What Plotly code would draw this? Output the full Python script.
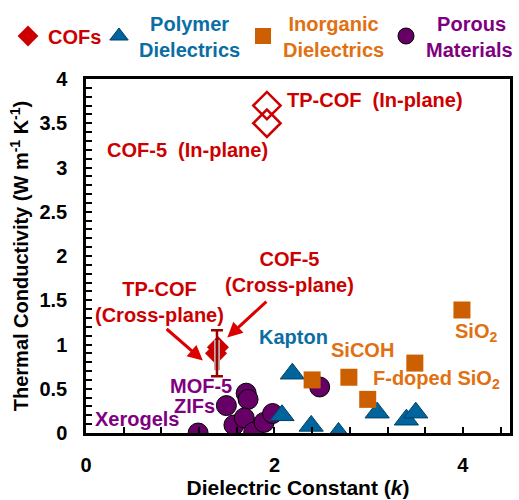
import plotly.graph_objects as go

# ---------------- data ----------------
# COFs (in-plane, open diamonds)
cof_in_x = [1.92, 1.92]
cof_in_y = [3.70, 3.50]
# COFs (cross-plane, filled diamonds)
cof_cross_x = [1.38, 1.40]
cof_cross_y = [0.90, 0.97]
# error bars on cross-plane values
errbar_x = [1.39]
errbar_dark_y = [0.90]
errbar_dark = [0.26]
errbar_light_y = [0.88]
errbar_light = [0.17]

# Polymer dielectrics (triangles)
poly_x = [2.19, 2.08, 2.39, 2.68, 3.09, 3.40, 3.50]
poly_y = [0.67, 0.20, 0.08, 0.00, 0.23, 0.15, 0.23]

# Inorganic dielectrics (squares)
ino_x = [2.40, 2.79, 2.99, 3.49, 3.99]
ino_y = [0.60, 0.63, 0.38, 0.79, 1.39]

# Porous materials (circles)
por_x = [1.19, 1.49, 1.70, 1.72, 1.57, 1.68, 1.78, 1.89, 1.98, 2.48]
por_y = [0.00, 0.31, 0.45, 0.38, 0.09, 0.17, 0.01, 0.12, 0.22, 0.52]

x_ticks = [0, 2, 4]
y_ticks = [0, 0.5, 1, 1.5, 2, 2.5, 3, 3.5, 4]

RED = "#CC0000"
DARKRED = "#990000"
BLUE_M = "#00659C"
BLUE_T = "#0A6EA4"
ORANGE_M = "#CC6000"
ORANGE_T = "#E07010"
PURPLE_M = "#660066"
PURPLE_T = "#7F007F"
NB = "&nbsp;"

fig = go.Figure()

fig.add_trace(go.Scatter(
    x=por_x, y=por_y, mode="markers", legend="legend4",
    name=f"<span style='color:{PURPLE_T}'>{NB}{NB}Porous</span><br><span style='color:{PURPLE_T}'>Materials</span>",
    marker=dict(symbol="circle", size=20, color=PURPLE_M, line=dict(color="black", width=1)),
))
fig.add_trace(go.Scatter(
    x=poly_x, y=poly_y, mode="markers", legend="legend2",
    name=f"<span style='color:{BLUE_T}'>{NB}{NB}Polymer</span><br><span style='color:{BLUE_T}'>Dielectrics</span>",
    marker=dict(symbol="triangle-up", size=21, color=BLUE_M, line=dict(color="#003F66", width=1)),
))
fig.add_trace(go.Scatter(
    x=ino_x, y=ino_y, mode="markers", legend="legend3",
    name=f"<span style='color:{ORANGE_T}'>{NB}Inorganic</span><br><span style='color:{ORANGE_T}'>Dielectrics</span>",
    marker=dict(symbol="square", size=17, color=ORANGE_M, line=dict(width=0)),
))
fig.add_trace(go.Scatter(
    x=cof_in_x, y=cof_in_y, mode="markers", showlegend=False,
    marker=dict(symbol="diamond-open", size=21, color=RED, line=dict(color=RED, width=2.5)),
))
fig.add_trace(go.Scatter(
    x=cof_cross_x, y=cof_cross_y, mode="markers", legend="legend",
    name=f"<span style='color:{RED}'>COFs</span>",
    marker=dict(symbol="diamond", size=17, color=RED, line=dict(width=0)),
))
fig.add_trace(go.Scatter(
    x=errbar_x, y=errbar_light_y, mode="markers", showlegend=False,
    marker=dict(size=1, opacity=0),
    error_y=dict(type="data", array=errbar_light, color="#C8A8A8", thickness=6, width=0),
))
fig.add_trace(go.Scatter(
    x=errbar_x, y=errbar_dark_y, mode="markers", showlegend=False,
    marker=dict(size=1, opacity=0),
    error_y=dict(type="data", array=errbar_dark, color=DARKRED, thickness=2.5, width=6),
))

def txt(x, y, s, color, xanchor="left", align="left"):
    fig.add_annotation(x=x, y=y, xref="x", yref="y", text=s, showarrow=False,
                       xanchor=xanchor, yanchor="middle", align=align,
                       font=dict(color=color, size=20))

txt(2.11, 3.76, f"TP-COF{NB}{NB}(In-plane)", RED)
txt(0.20, 3.20, f"COF-5{NB}{NB}(In-plane)", RED)
txt(2.16, 1.82, "COF-5<br>(Cross-plane)", RED, xanchor="center", align="center")
txt(0.78, 1.48, "TP-COF<br>(Cross-plane)", RED, xanchor="center", align="center")
txt(1.81, 1.08, "Kapton", BLUE_T)
txt(2.58, 0.94, "SiCOH", ORANGE_T)
txt(3.90, 1.14, "SiO<sub>2</sub>", ORANGE_T)
txt(3.03, 0.60, "F-doped SiO<sub>2</sub>", ORANGE_T)
txt(0.87, 0.53, "MOF-5", PURPLE_T)
txt(0.91, 0.30, "ZIFs", PURPLE_T)
txt(0.07, 0.16, "Xerogels", PURPLE_T)

# arrows
for (hx, hy, tx, ty) in [(1.24, 0.82, 0.84, 1.19), (1.50, 1.08, 1.93, 1.50)]:
    fig.add_annotation(x=hx, y=hy, ax=tx, ay=ty, xref="x", yref="y", axref="x", ayref="y",
                       text="", showarrow=True, arrowhead=2, arrowsize=1.0,
                       arrowwidth=3, arrowcolor="#DD0000")

axis_common = dict(
    showline=True, linecolor="black", linewidth=2.5, mirror=True,
    ticks="inside", ticklen=6, tickwidth=2, tickcolor="black",
    showgrid=False, zeroline=False,
    tickfont=dict(size=20, color="black"),
    ticklabelstandoff=12,
)

fig.update_xaxes(
    range=[0, 4.5], tickmode="array", tickvals=x_ticks, ticktext=[str(v) for v in x_ticks],
    minor=dict(dtick=0.4, tick0=0, ticks="inside", ticklen=6, tickwidth=2, tickcolor="black"),
    title=dict(text="Dielectric Constant (<i>k</i>)", font=dict(size=21, color="black"), standoff=4),
    **axis_common,
)
fig.update_yaxes(
    range=[0, 4], tickmode="array", tickvals=y_ticks, ticktext=[f"{v:g}" for v in y_ticks],
    minor=dict(dtick=0.1, tick0=0, ticks="inside", ticklen=6, tickwidth=1.5, tickcolor="black"),
    title=dict(text="Thermal Conductivity (W m<sup>-1</sup> K<sup>-1</sup>)", font=dict(size=20, color="black"), standoff=6),
    **axis_common,
)

# plot area in page pixels: left 86, top 79, width 424, height 354
def leg(px_left, py_mid=36):
    return dict(x=(px_left - 86) / 424, xanchor="left",
                y=(433 - py_mid) / 354, yanchor="middle",
                orientation="v", font=dict(size=20), itemsizing="trace",
                bgcolor="rgba(0,0,0,0)", itemwidth=30, borderwidth=0)

fig.update_layout(
    width=519, height=500,
    margin=dict(l=86, r=9, t=79, b=67, autoexpand=False),
    paper_bgcolor="white", plot_bgcolor="white",
    font=dict(family="Liberation Sans, Arial, sans-serif", size=20, weight="bold", color="black"),
    showlegend=True,
    legend=leg(8),
    legend2=leg(99),
    legend3=leg(243),
    legend4=leg(386),
)

fig.write_html("out.html", config={"displayModeBar": False},
               post_script="document.body.style.margin='0';document.body.style.padding='0';")
